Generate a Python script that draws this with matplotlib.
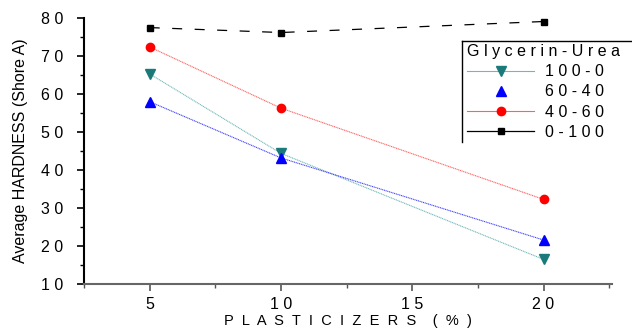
import matplotlib
matplotlib.use("Agg")
import matplotlib.pyplot as plt
from matplotlib.ticker import MultipleLocator, FuncFormatter

plt.rcParams['font.family'] = ['Liberation Sans', 'DejaVu Sans']

plasticizer = [5, 10, 20]
labels = ['1 0 0 - 0', '6 0 - 4 0', '4 0 - 6 0', '0 - 1 0 0']
g100_0 = [65.3, 44.4, 16.5]
g60_40 = [58.0, 43.2, 21.6]
g40_60 = [72.4, 56.3, 32.3]
g0_100 = [77.5, 76.2, 79.1]

fig = plt.figure(figsize=(6.32, 3.35), dpi=100)
ax = fig.add_axes([0.133, 0.152, 0.835, 0.794])

l1, = ax.plot(plasticizer, g100_0, color='#70b8b8', lw=0.8, ls=(0, (1, 0.6)),
              marker='v', ms=7, mfc='#1a7a7a', mec='#1a7a7a')
l2, = ax.plot(plasticizer, g60_40, color='#4040ff', lw=0.8, ls=(0, (1, 0.6)),
              marker='^', ms=7, mfc='#0000ff', mec='#0000ff')
l3, = ax.plot(plasticizer, g40_60, color='#ff6060', lw=0.8, ls=(0, (1, 0.6)),
              marker='o', ms=6, mfc='#ff0000', mec='#ff0000')
l4, = ax.plot(plasticizer, g0_100, color='black', lw=0.9, ls=(0, (8, 10)),
              marker='s', ms=5, mfc='black', mec='black')

ax.set_xlim(2.5, 22.6)
ax.set_ylim(10, 80)
ax.xaxis.set_major_locator(MultipleLocator(5))
ax.xaxis.set_minor_locator(MultipleLocator(2.5))
ax.yaxis.set_major_locator(MultipleLocator(10))
ax.yaxis.set_minor_locator(MultipleLocator(5))
spaced = FuncFormatter(lambda v, p: ' '.join(str(int(round(v)))))
ax.xaxis.set_major_formatter(spaced)
ax.yaxis.set_major_formatter(spaced)
ax.tick_params(which='major', direction='out', length=5, width=1.2, labelsize=11.5, pad=4)
ax.tick_params(axis='y', which='major', pad=10)
ax.tick_params(which='minor', direction='out', length=3, width=1.0)
ax.tick_params(axis='x', which='both', color='#555555')
for s in ['top', 'right']:
    ax.spines[s].set_visible(False)
ax.spines['left'].set_linewidth(1.5)
ax.spines['bottom'].set_linewidth(1.5)
ax.spines['bottom'].set_color('#666666')

ax.set_xlabel('P  L  A  S  T  I  C  I  Z  E  R  S    (  %  )', fontsize=10.5, labelpad=2)
ax.set_ylabel('Average HARDNESS (Shore A)', fontsize=11.5, labelpad=9)

h2 = plt.Line2D([], [], ls='none', marker='^', ms=7, mfc='#0000ff', mec='#0000ff')
leg = fig.legend([l1, h2, l3, l4], labels, title='G l y c e r i n - U r e a',
                 loc='upper left', bbox_to_anchor=(464 / 632, 1 - 41 / 335),
                 fontsize=11.5, title_fontsize=11.5, frameon=False,
                 borderpad=0.2, labelspacing=0.32, handlelength=4.2,
                 handletextpad=0.7, borderaxespad=0)
leg._legend_box.align = 'left'
for h in leg.legend_handles:
    h.set_linestyle('-')
leg.legend_handles[1].set_linestyle('none')
fig.add_artist(plt.Line2D([462 / 632, 1], [1 - 41 / 335] * 2, color='black', lw=1.0,
                          transform=fig.transFigure))
fig.add_artist(plt.Line2D([462 / 632] * 2, [1 - 41 / 335, 1 - 142 / 335], color='black',
                          lw=1.0, transform=fig.transFigure))

fig.savefig('out.png', dpi=100)
